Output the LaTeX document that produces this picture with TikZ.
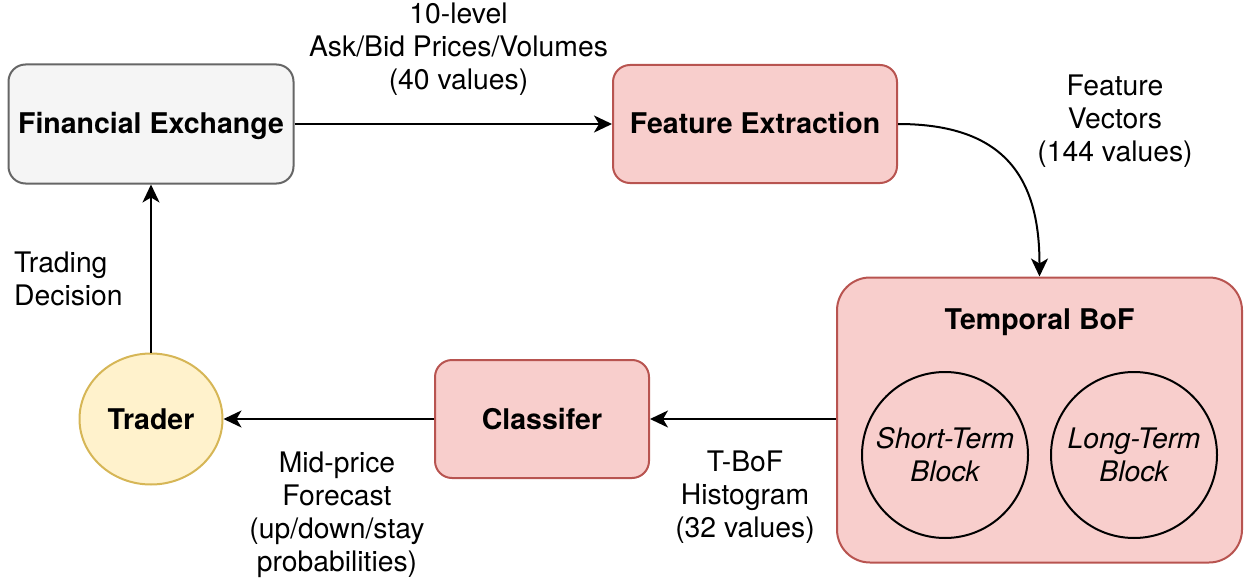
\documentclass[tikz,border=0pt]{standalone}
\usepackage{fontspec}
\setmainfont{TeX Gyre Heros}
\usetikzlibrary{arrows.meta,shapes.geometric}
\definecolor{grayfill}{HTML}{F5F5F5}
\definecolor{graystroke}{HTML}{666666}
\definecolor{redfill}{HTML}{F8CECC}
\definecolor{redstroke}{HTML}{B85450}
\definecolor{yelfill}{HTML}{FFF2CC}
\definecolor{yelstroke}{HTML}{D6B656}
\tikzset{
  base/.style={font=\fontsize{28.3}{33}\selectfont, inner sep=0pt, align=center},
  bold/.style={font=\fontsize{28.5}{33}\selectfont\bfseries, text height=20pt, text depth=0pt},
  graybox/.style={base, bold, draw=graystroke, fill=grayfill, line width=2pt, rounded corners=17pt},
  redbox/.style={base, bold, draw=redstroke, fill=redfill, line width=2pt, rounded corners=17pt},
  blockcircle/.style={base, circle, draw=black, line width=2pt, minimum size=166pt, font=\fontsize{28.3}{33}\selectfont\itshape},
  lbl/.style={base},
  conn/.style={line width=2pt, -{Stealth[length=18pt,width=17pt,inset=5pt]}},
}
\begin{document}
\begin{tikzpicture}[x=1pt,y=-1pt]
\useasboundingbox (0,0) rectangle (1247,583);
% boxes
\node[graybox, minimum width=285pt, minimum height=119pt] (fe) at (151,124) {Financial Exchange};
\node[redbox, minimum width=284pt, minimum height=118pt] (fx) at (755,124) {Feature Extraction};
\node[redbox, rounded corners=33pt, minimum width=405pt, minimum height=285pt] (tbof) at (1039.5,420) {};
\node[base, bold] (tbt) at (1039.5,319.5) {Temporal BoF};
\node[blockcircle] (st) at (945,455) {Short-Term\\Block};
\node[blockcircle] (lt) at (1134,455) {Long-Term\\Block};
\node[redbox, minimum width=214pt, minimum height=118pt] (cl) at (542,419) {Classifer};
\node[base, bold, ellipse, draw=yelstroke, fill=yelfill, line width=2pt, minimum width=143pt, minimum height=131pt] (tr) at (151,419) {Trader};
% connectors
\draw[conn] (fe.east) -- (fx.west);
\draw[conn] (fx.east) .. controls +(110,0) and +(0,-95) .. (tbof.north);
\draw[conn] (tbof.west |- cl.east) -- (cl.east);
\draw[conn] (cl.west) -- (tr.east);
\draw[conn] (tr.north) -- (fe.south);
% labels
\node[lbl] (l1) at (458.5,49) {10-level\\Ask/Bid Prices/Volumes\\(40 values)};
\node[lbl] (l2) at (1115,121) {Feature\\Vectors\\(144 values)};
\node[lbl, align=left, anchor=west] (l3) at (14,279) {Trading\\Decision};
\node[lbl] (l4) at (337,515) {Mid-price\\Forecast\\(up/down/stay\\probabilities)};
\node[lbl] (l5) at (745,497) {T-BoF\\Histogram\\(32 values)};
\end{tikzpicture}
\end{document}
